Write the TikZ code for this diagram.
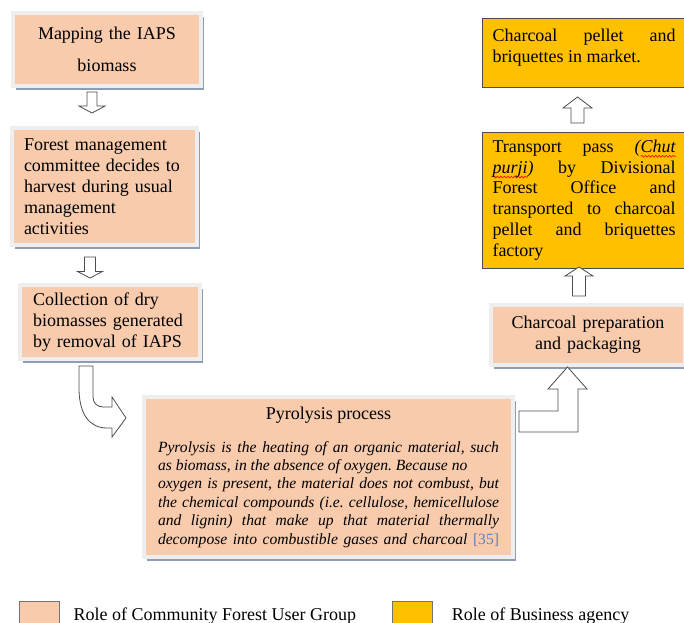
\documentclass[tikz,border=0pt]{standalone}
\usepackage{fontspec}
\setmainfont{Liberation Serif}
\usetikzlibrary{shadows,decorations.pathmorphing}

\definecolor{salmon}{HTML}{F8CBAD}
\definecolor{gold}{HTML}{FFC000}
\definecolor{rimgray}{HTML}{EEEEEE}
\definecolor{shadowblue}{HTML}{8E9DB5}
\definecolor{citeblue}{HTML}{5B82C8}

% red wavy underline of the spell checker
\newcommand\redwave[1]{\setbox0\hbox{#1}\rlap{\tikz[baseline=0pt]\draw[red, line width=0.45pt,
  decorate, decoration={snake, amplitude=0.7pt, segment length=2.6pt}] (0pt,-3pt) -- (\wd0,-3pt);}\box0}

% hollow block arrow: x, tail y, tip y, shaft half width, head half width, head length
\newcommand\hollowarrow[6]{%
  \pgfmathsetmacro\headbase{#3+(#2>#3?1:-1)*#6}%
  \draw[blockarrow] (#1-#4,#2) -- (#1+#4,#2) -- (#1+#4,\headbase) -- (#1+#5,\headbase)
    -- (#1,#3) -- (#1-#5,\headbase) -- (#1-#4,\headbase) -- cycle;}

\frenchspacing

\begin{document}
\begin{tikzpicture}[x=0.75pt,y=-0.75pt,
    cfug/.style={fill=salmon, draw=rimgray, line width=3pt, inner sep=0pt,
      drop shadow={shadow xshift=2.2pt, shadow yshift=-3pt, fill=shadowblue, opacity=1},
      font=\fontsize{13.5}{15.75}\selectfont},
    agency/.style={fill=gold, draw=black!70, line width=0.6pt, inner sep=0pt,
      font=\fontsize{13.5}{15.6}\selectfont},
    blockarrow/.style={draw=black!70, fill=white, line width=0.6pt},
    keybox/.style={draw=black!55, line width=0.6pt, minimum size=30pt, inner sep=0pt},
    keytext/.style={anchor=base west, inner sep=0pt, font=\fontsize{13.5}{15.75}\selectfont}]
\useasboundingbox (0,0) rectangle (684,623);

% Community Forest User Group steps
\node[cfug, minimum width=141pt, minimum height=54.75pt, text width=130pt, align=center,
  font=\fontsize{13.5}{24}\selectfont] (map) at (107,49.5) {Mapping the IAPS\\biomass};
\node[cfug, minimum width=138.75pt, minimum height=87.75pt, text width=120.75pt, align=left]
  (forest) at (104.5,186.5) {Forest management\\committee decides to\\harvest during usual\\management\\activities};
\node[cfug, minimum width=135pt, minimum height=55.5pt, text width=115.5pt, align=left]
  (collect) at (110,322) {Collection of dry\\biomasses generated\\by removal of IAPS};
\node[cfug, minimum width=276.75pt, minimum height=120pt, text width=255.75pt, align=justify]
  (pyro) at (328.5,477) {{\centering Pyrolysis process\par}\vspace{11pt}%
  {\itshape\fontsize{11.7}{13.8}\selectfont Pyrolysis is the heating of an organic material, such\linebreak
  as biomass, in the absence of oxygen. Because no\\
  oxygen is present, the material does not combust, but\linebreak
  the chemical compounds (i.e. cellulose, hemicellulose\linebreak
  and lignin) that make up that material thermally\linebreak
  decompose into combustible gases and charcoal \textcolor{citeblue}{\upshape[35]}\parfillskip=0pt\par}};
\node[cfug, minimum width=145.5pt, minimum height=45pt, text width=140pt, align=center]
  (prep) at (588,335) {Charcoal preparation\\and packaging};

% Business agency steps
\node[agency, minimum width=153pt, minimum height=102pt, text width=137.25pt, align=justify]
  (transport) at (584,200) {Transport pass \textit{(\redwave{Chut}}\linebreak
  \textit{\redwave{purji})} by Divisional\linebreak Forest Office and\linebreak
  transported to charcoal\linebreak pellet and briquettes\linebreak factory};
\node[agency, minimum width=152.25pt, minimum height=51.75pt] (market) at (584,52.5)
  {\parbox[c][35pt][t]{137.25pt}{Charcoal pellet and\linebreak briquettes in market.}};

% block arrows
\hollowarrow{92}{92}{113}{5}{13}{7}
\hollowarrow{90}{257}{278}{5.5}{12.5}{6.5}
\draw[blockarrow] (79,366) -- (93,366) -- (93,397) .. controls (93,403) and (97,407) .. (103,407)
  -- (112,407) -- (112,397) -- (126,418) -- (112,437) -- (112,428) -- (107,428)
  .. controls (90,428) and (79,415) .. (79,388) -- cycle;
\draw[blockarrow] (519,411) -- (558,411) -- (558,389) -- (548,389) -- (567.5,367) -- (587,389)
  -- (578,389) -- (578,432) -- (519,432) -- cycle;
\hollowarrow{579}{296}{267}{6.5}{14}{9}
\hollowarrow{577.5}{123}{97}{6.5}{14.5}{11}

% legend
\node[keybox, fill=salmon] (keycfug) at (39.5,621.5) {};
\node[keytext] (keycfugtext) at (73.3,620) {Role of Community Forest User Group};
\node[keybox, fill=gold] (keyagency) at (412,621.5) {};
\node[keytext] (keyagencytext) at (451.7,620) {Role of Business agency};
\end{tikzpicture}
\end{document}
